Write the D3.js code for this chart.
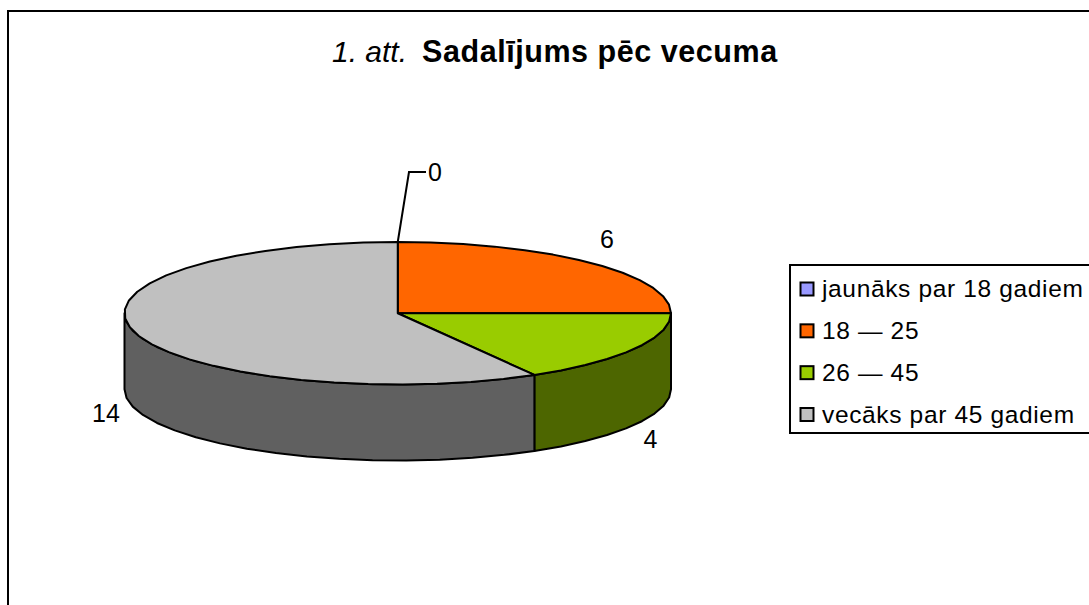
<!DOCTYPE html>
<html><head><meta charset="utf-8">
<script src="https://cdn.jsdelivr.net/npm/d3@7"></script>
<style>html,body{margin:0;padding:0;background:#fff;overflow:hidden}svg{display:block}text{font-family:"Liberation Sans",Arial,sans-serif;fill:#000}</style>
</head><body><svg id="c" width="1089" height="605"></svg>
<script>
const categories = ["jaunāks par 18 gadiem","18 — 25","26 — 45","vecāks par 45 gadiem"];
const values = [0,6,4,14];
const topColors = ["#9999FF","#FF6600","#99CC00","#C0C0C0"];
const sideColors = ["#4D4D80","#803300","#4D6600","#606060"];
const labelPos = [[435,181],[607,248],[650.5,447.5],[106,422]];

const svg = d3.select("#c");
svg.append("rect").attr("x",8).attr("y",11).attr("width",1200).attr("height",800)
  .attr("fill","#fff").attr("stroke","#000").attr("stroke-width",2);

const title = svg.append("text").attr("x",332).attr("y",62).attr("font-size",30);
title.append("tspan").attr("font-style","italic").text("1. att.");
title.append("tspan").attr("font-weight","bold").attr("font-size",30.5).attr("dx",15).attr("letter-spacing",0.55).text("Sadalījums pēc vecuma");

const x = d3.scaleLinear().domain([-1,1]).range([124.5,671]);
const y = d3.scaleLinear().domain([-1,1]).range([242,384.5]);
const depth = 76;
const arcs = d3.pie().value(d=>d).sort(null).startAngle(0).endAngle(2*Math.PI)(values);
const samples = (a,b)=>{const n=Math.max(2,Math.ceil((b-a)/0.13));return d3.range(n+1).map(i=>a+(b-a)*i/n);};
const line = d3.line().x(d=>x(d[0])).y(d=>y(d[1])+(d[2]||0));
const rim = (a,dz)=>[Math.sin(a),-Math.cos(a),dz];
const g = svg.append("g").attr("stroke","#000").attr("stroke-width",2).attr("stroke-linejoin","round");

arcs.forEach((d,i)=>{
  const a=Math.max(d.startAngle,Math.PI/2), b=Math.min(d.endAngle,3*Math.PI/2);
  if(b<=a) return;
  const s=samples(a,b);
  const pts=[...s.map(t=>rim(t,0)),...s.slice().reverse().map(t=>rim(t,depth))];
  g.append("path").attr("d",line(pts)+"Z").attr("fill",sideColors[i]);
});
arcs.forEach((d,i)=>{
  if(d.endAngle-d.startAngle<=0) return;
  const pts=[[0,0,0],...samples(d.startAngle,d.endAngle).map(t=>rim(t,0))];
  g.append("path").attr("d",line(pts)+"Z").attr("fill",topColors[i]);
});
svg.append("path").attr("fill","none").attr("stroke","#000").attr("stroke-width",2)
  .attr("d",d3.line()([[x(0),y(-1)],[409,172],[426,172]]));

svg.selectAll("text.lab").data(values).join("text").attr("class","lab")
  .attr("x",(d,i)=>labelPos[i][0]).attr("y",(d,i)=>labelPos[i][1]).attr("text-anchor","middle")
  .attr("font-size",25).text(d=>d);

svg.append("rect").attr("x",790).attr("y",265).attr("width",400).attr("height",168)
  .attr("fill","#fff").attr("stroke","#000").attr("stroke-width",2);
const ly=d3.scalePoint().domain(categories).range([289,414.5]);
const lg=svg.selectAll("g.leg").data(categories).join("g").attr("class","leg").attr("transform",d=>`translate(0,${ly(d)})`);
lg.append("rect").attr("x",800.5).attr("y",-6.5).attr("width",13).attr("height",13)
  .attr("fill",(d,i)=>topColors[i]).attr("stroke","#000").attr("stroke-width",2);
lg.append("text").attr("x",822).attr("y",8).attr("font-size",24.5).attr("letter-spacing",0.65).text(d=>d);
</script></body></html>
